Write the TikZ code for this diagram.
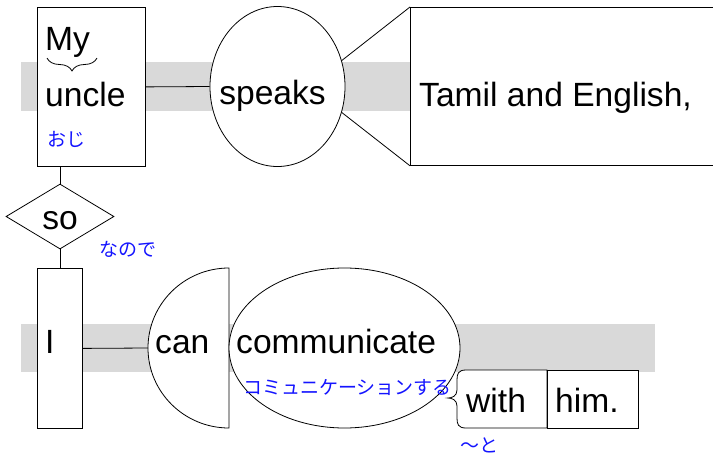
\documentclass[tikz,border=0pt]{standalone}
\usepackage{fontspec}
\setmainfont{Liberation Sans}
\newfontfamily\jp{Noto Sans CJK JP}
\usetikzlibrary{shapes.geometric,decorations.pathreplacing}
\definecolor{band}{gray}{0.85}
\definecolor{gloss}{RGB}{20,20,255}
\tikzset{
  box/.style={draw, fill=white, line width=0.8pt, inner sep=0pt, anchor=north west},
  word/.style={inner sep=0pt, anchor=base west, font=\fontsize{33.6}{40}\selectfont},
  jword/.style={inner sep=0pt, anchor=base west, text=gloss, font=\jp\fontsize{19}{22}\selectfont},
  link/.style={draw, line width=0.8pt},
  oval/.style={draw, fill=white, ellipse, line width=0.8pt, inner sep=0pt}
}
\begin{document}
\begin{tikzpicture}[x=1pt,y=-1pt]
\useasboundingbox (0,0) rectangle (713,458);
% bands
\fill[band] (21,62) rectangle (500,111);
\fill[band] (21,324) rectangle (655,372);
% top clause
\node[box, minimum width=108pt, minimum height=159pt] (uncle) at (37,7) {};
\node[oval, minimum width=135pt, minimum height=160pt] (speaks) at (277.5,86.5) {};
\node[box, minimum width=310pt, minimum height=158pt] (obj) at (410,7) {};
\draw[link] (speaks.22) -- (obj.north west);
\draw[link] (speaks.-22) -- (obj.south west);
\draw[link] (uncle.east) -- (speaks.west);
\node[word] (my) at (45,50) {My};
\draw[line width=0.8pt, decorate, decoration={brace, amplitude=13pt}] (97,58) -- (47,58);
\node[word] (uncletxt) at (45,106) {uncle};
\node[jword] (oji) at (47,146) {おじ};
\node[word, anchor=base] (speakstxt) at (272.5,104) {speaks};
\node[word] (objtxt) at (419,106) {Tamil and English,};
% conjunction
\node[draw, fill=white, diamond, aspect=1.66, line width=0.8pt, minimum width=108pt, minimum height=65pt, inner sep=0pt] (so) at (60,216.5) {};
\node[word, anchor=base] (sotxt) at (60,229) {so};
\node[jword] (node) at (99,256) {なので};
\draw[link] (so.north) -- (so.north |- uncle.south);
% bottom clause
\node[box, minimum width=45pt, minimum height=160pt] (I) at (37,268) {};
\draw[link] (so.south) -- (so.south |- I.north);
\coordinate (canw) at (148,348);
\draw[fill=white, line width=0.8pt] (229,268) arc[start angle=270, end angle=90, x radius=81, y radius=80] -- cycle;
\draw[link] (I.east) -- (canw);
\node[oval, minimum width=231pt, minimum height=160pt] (comm) at (344.5,348) {};
\node[word] (Itxt) at (45,353) {I};
\node[word] (cantxt) at (155,353) {can};
\node[word] (commtxt) at (236,353) {communicate};
\node[jword] (commjp) at (243,394) {コミュニケーションする};
% prepositional phrase
\draw[fill=white, line width=0.8pt] (547,370) -- (466,370) .. controls (458,370) and (457,374) .. (457,380) -- (457,390) .. controls (457,396) and (452,398) .. (448,398) .. controls (452,398) and (457,400) .. (457,406) -- (457,418) .. controls (457,424) and (458,428) .. (466,428) -- (547,428) -- cycle;
\node[box, minimum width=91pt, minimum height=58pt] (him) at (547,370) {};
\node[word] (withtxt) at (466,412) {with};
\node[word] (himtxt) at (555,412) {him.};
\node[jword] (to) at (460,452) {～と};
\end{tikzpicture}
\end{document}
